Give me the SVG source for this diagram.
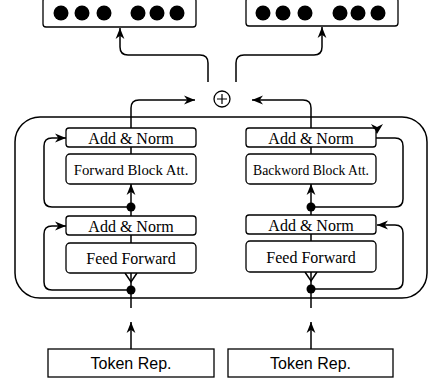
<svg xmlns="http://www.w3.org/2000/svg" width="429" height="383" viewBox="0 0 429 383">
<style>
.box{fill:#fff;stroke:#000;stroke-width:1.3}
.edge{fill:none;stroke:#000;stroke-width:1.5}
.dot{fill:#000}
.serif{font-family:"Liberation Serif","Times New Roman",serif;fill:#000;text-anchor:middle}
.sans{font-family:"Liberation Sans",Arial,sans-serif;font-size:16px;fill:#000;text-anchor:middle}
</style>
<defs>
<marker id="arr" viewBox="0 0 10 10" refX="10" refY="5" markerWidth="11" markerHeight="11" orient="auto" markerUnits="userSpaceOnUse">
<path d="M0,1 L10,5 L0,9 L3,5 z" fill="#000"/>
</marker>
</defs>

<g id="container">
<rect x="15" y="117" width="412" height="181" rx="25" ry="25" fill="none" stroke="#000" stroke-width="1.5"/>
</g>

<g id="connectors">
<path class="edge" d="M208,82 V63 Q208,55 200,55 H128 Q120,55 120,47 V28" marker-end="url(#arr)"/>
<path class="edge" d="M236,82 V63 Q236,55 244,55 H314 Q322,55 322,47 V27" marker-end="url(#arr)"/>
<path class="edge" d="M131,128 V108 Q131,100 139,100 H195" marker-end="url(#arr)"/>
<path class="edge" d="M311,128 V108 Q311,100 303,100 H252" marker-end="url(#arr)"/>
<!-- left column -->
<path class="edge" d="M131,147 V154"/>
<path class="edge" d="M131,207 V184" marker-end="url(#arr)"/>
<path class="edge" d="M131,207 H52 Q44,207 44,199 V146 Q44,138 52,138 H66" marker-end="url(#arr)"/>
<path class="edge" d="M131,207 V216"/>
<path class="edge" d="M131,235 V243"/>
<path class="edge" d="M131,273 V290"/>
<path class="edge" d="M125,273 L131,282 L137,273"/>
<path class="edge" d="M131,290 H52 Q44,290 44,282 V234 Q44,226 52,226 H66" marker-end="url(#arr)"/>
<path class="edge" d="M131,290 V308"/>
<path class="edge" d="M131,349 V322" marker-end="url(#arr)"/>
<!-- right column -->
<path class="edge" d="M311,147 V154"/>
<path class="edge" d="M311,207 V184" marker-end="url(#arr)"/>
<path class="edge" d="M311,207 H395 Q403,207 403,199 V146 Q403,138 395,138 H376"/>
<path d="M371,124 L377,127 L383,124 L377,134 z" fill="#000"/>
<path class="edge" d="M311,207 V215"/>
<path class="edge" d="M311,234 V241"/>
<path class="edge" d="M311,272 V289"/>
<path class="edge" d="M305,272 L311,281 L317,272"/>
<path class="edge" d="M311,289 H395 Q403,289 403,281 V233 Q403,225 395,225 H377" marker-end="url(#arr)"/>
<path class="edge" d="M311,289 V308"/>
<path class="edge" d="M311,349 V322" marker-end="url(#arr)"/>
<circle class="dot" cx="131" cy="207" r="4.5"/>
<circle class="dot" cx="131" cy="290" r="4.5"/>
<circle class="dot" cx="311" cy="207" r="4.5"/>
<circle class="dot" cx="311" cy="289" r="4.5"/>
</g>

<g id="out-left">
<rect class="box" x="43" y="-2" width="153" height="29" rx="3"/>
<circle class="dot" cx="61" cy="13" r="7.5"/>
<circle class="dot" cx="82" cy="13" r="7.5"/>
<circle class="dot" cx="104" cy="13" r="7.5"/>
<circle class="dot" cx="138" cy="13" r="7.5"/>
<circle class="dot" cx="157" cy="13" r="7.5"/>
<circle class="dot" cx="177" cy="13" r="7.5"/>
</g>
<g id="out-right">
<rect class="box" x="246" y="-2" width="152" height="28" rx="3"/>
<circle class="dot" cx="263" cy="13" r="7.5"/>
<circle class="dot" cx="283" cy="13" r="7.5"/>
<circle class="dot" cx="305" cy="13" r="7.5"/>
<circle class="dot" cx="340" cy="13" r="7.5"/>
<circle class="dot" cx="358" cy="13" r="7.5"/>
<circle class="dot" cx="378" cy="13" r="7.5"/>
</g>

<g id="plus">
<circle cx="222" cy="99" r="8" fill="#fff" stroke="#000" stroke-width="1.3"/>
<path d="M217,99 H227 M222,94 V104" stroke="#000" stroke-width="1.2"/>
</g>

<g id="left-addnorm-top">
<rect class="box" x="66" y="128" width="130" height="19" rx="3"/>
<text class="serif" x="131" y="143.5" font-size="16">Add &amp; Norm</text>
</g>
<g id="left-fwd-att">
<rect class="box" x="66" y="154" width="130" height="30" rx="4"/>
<text class="serif" x="131" y="175" font-size="14.8">Forward Block Att.</text>
</g>
<g id="left-addnorm-bottom">
<rect class="box" x="66" y="216" width="130" height="19" rx="3"/>
<text class="serif" x="131" y="231.5" font-size="16">Add &amp; Norm</text>
</g>
<g id="left-ff">
<rect class="box" x="66" y="243" width="130" height="30" rx="4"/>
<text class="serif" x="131" y="264" font-size="16">Feed Forward</text>
</g>

<g id="right-addnorm-top">
<rect class="box" x="246" y="128" width="130" height="19" rx="3"/>
<text class="serif" x="311" y="143.5" font-size="16">Add &amp; Norm</text>
</g>
<g id="right-bwd-att">
<rect class="box" x="246" y="154" width="130" height="30" rx="4"/>
<text class="serif" x="311" y="175" font-size="13.7">Backword Block Att.</text>
</g>
<g id="right-addnorm-bottom">
<rect class="box" x="246" y="215" width="130" height="19" rx="3"/>
<text class="serif" x="311" y="230.5" font-size="16">Add &amp; Norm</text>
</g>
<g id="right-ff">
<rect class="box" x="246" y="241" width="130" height="31" rx="4"/>
<text class="serif" x="311" y="263" font-size="16">Feed Forward</text>
</g>

<g id="token-left">
<rect class="box" x="48" y="349" width="166" height="28"/>
<text class="sans" x="131" y="369">Token Rep.</text>
</g>
<g id="token-right">
<rect class="box" x="228" y="349" width="165" height="28"/>
<text class="sans" x="310.5" y="369">Token Rep.</text>
</g>
</svg>
